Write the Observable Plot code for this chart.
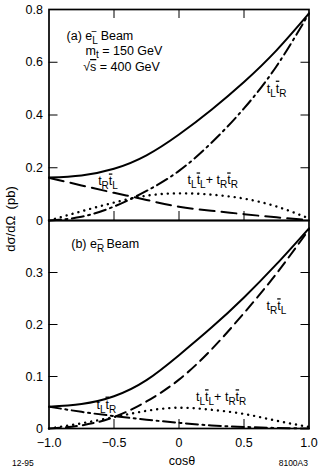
<!DOCTYPE html>
<html><head><meta charset="utf-8">
<script src="https://cdn.jsdelivr.net/npm/d3@7"></script>
<script src="https://cdn.jsdelivr.net/npm/@observablehq/plot@0.6"></script>
<style>
body{margin:0;background:#fff;}
#wrap{position:relative;width:318px;height:470px;font-family:"Liberation Sans",Arial,Helvetica,sans-serif;color:#000;overflow:hidden;}
#wrap svg{position:absolute;left:0;overflow:visible;}
.note{position:absolute;white-space:nowrap;line-height:1;}
</style></head><body><div id="wrap"></div>
<script>
// ---- data ----
const cosTheta = [-1, -0.75, -0.5, -0.25, 0, 0.25, 0.5, 0.75, 1];
// (a) e_L^- beam
const totalA   = [0.163, 0.171, 0.196, 0.247, 0.326, 0.420, 0.525, 0.645, 0.785];
const tLtRbarA = [0.000, 0.014, 0.053, 0.112, 0.188, 0.295, 0.425, 0.585, 0.785];
const tRtLbarA = [0.162, 0.133, 0.105, 0.078, 0.052, 0.037, 0.024, 0.012, 0.002];
const sameHelA = [0.000, 0.035, 0.068, 0.094, 0.103, 0.098, 0.083, 0.053, 0.008];
// (b) e_R^- beam
const totalB   = [0.042, 0.047, 0.062, 0.093, 0.141, 0.194, 0.252, 0.316, 0.385];
const tRtLbarB = [0.000, 0.006, 0.022, 0.052, 0.094, 0.152, 0.222, 0.298, 0.383];
const tLtRbarB = [0.042, 0.032, 0.024, 0.017, 0.011, 0.006, 0.003, 0.001, 0.000];
const sameHelB = [0.000, 0.010, 0.022, 0.034, 0.040, 0.036, 0.028, 0.015, 0.003];
// ticks
const xTickValues = [-1, -0.5, 0, 0.5, 1];
const xInnerTicks = [-0.5, 0, 0.5];
const yLabelsA = [0, 0.2, 0.4, 0.6, 0.8];
const yInnerA  = [0.2, 0.4, 0.6];
const yLabelsB = [0, 0.1, 0.2, 0.3];
const yInnerB  = [0.1, 0.2, 0.3];

// ---- layout ----
const font = '"Liberation Sans",Arial,Helvetica,sans-serif';
const rows = vals => cosTheta.map((c, i) => ({c, v: vals[i]}));
const fmtY = d => d === 0 ? "0" : d.toFixed(1);
const fmtX = d => d === 0 ? "0" : (d < 0 ? "\u2212" : "") + Math.abs(d).toFixed(1);

const sub = s => `<tspan dy="4" font-size="10">${s}</tspan>`;
const tt = (a, b) => `t${sub(a)}<tspan dy="-4" style="text-decoration:overline">t</tspan>${sub(b)}`;
const rich = {
  "A_beam": `(a) e<tspan dy="3.5" font-size="10">L</tspan><tspan dx="-6.5" dy="-8.5" font-size="10">\u2212</tspan><tspan dy="5"> Beam</tspan>`,
  "B_beam": `(b) e<tspan dy="3.5" font-size="10">R</tspan><tspan dx="-7" dy="-8.5" font-size="10">\u2212</tspan><tspan dy="5"> Beam</tspan>`,
  "mt": `m<tspan dy="3.5" font-size="10">t</tspan><tspan dy="-3.5"> = 150 GeV</tspan>`,
  "rs": `\u221A<tspan style="text-decoration:overline">s</tspan> = 400 GeV`,
  "tLtR": tt("L", "R"),
  "tRtL": tt("R", "L"),
  "same": tt("L", "L") + `<tspan dy="-4">+ </tspan>` + tt("R", "R")
};

const annA = [
  {c: -0.865, v: 0.698, key: "A_beam"},
  {c: -0.719, v: 0.643, key: "mt"},
  {c: -0.737, v: 0.582, key: "rs"},
  {c: 0.675, v: 0.50, key: "tLtR"},
  {c: -0.622, v: 0.148, key: "tRtL"},
  {c: 0.066, v: 0.152, key: "same"}
];
const annB = [
  {c: -0.829, v: 0.354, key: "B_beam"},
  {c: 0.673, v: 0.235, key: "tRtL"},
  {c: -0.635, v: 0.046, key: "tLtR"},
  {c: 0.131, v: 0.060, key: "same"}
];

function curves(total, dashdot, dashed, dotted, dashPattern) {
  return [
    Plot.line(rows(dotted), {x: "c", y: "v", curve: "natural", stroke: "black", strokeWidth: 2.4, strokeDasharray: "0.1,6", strokeLinecap: "round"}),
    Plot.line(rows(dashed), {x: "c", y: "v", curve: "natural", stroke: "black", strokeWidth: 2, strokeDasharray: dashPattern}),
    Plot.line(rows(dashdot), {x: "c", y: "v", curve: "natural", stroke: "black", strokeWidth: 2, strokeDasharray: "12,4.5,2,4.5"}),
    Plot.line(rows(total), {x: "c", y: "v", curve: "natural", stroke: "black", strokeWidth: 2})
  ];
}

function panel({height, marginTop, marginBottom, yDomain, yLabels, yInner, topTicks, bottomLabels, lines, ann}) {
  const marks = [
    ...lines,
    Plot.frame({stroke: "black", strokeWidth: 1.7}),
    Plot.axisY({ticks: yInner, anchor: "left", tickSize: -9, fill: "none", label: null, strokeWidth: 1}),
    Plot.axisY({ticks: yInner, anchor: "right", tickSize: -9, fill: "none", label: null, strokeWidth: 1}),
    Plot.axisX({ticks: xInnerTicks, anchor: "bottom", tickSize: -9, fill: "none", label: null, strokeWidth: 1}),
    Plot.axisY({ticks: yLabels, anchor: "left", tickSize: 0, tickPadding: 6, tickFormat: fmtY, label: null, fontSize: 12.5}),
    Plot.text(ann, {x: "c", y: "v", text: "key", textAnchor: "start", lineAnchor: "middle", fontSize: 12.5, fill: "black"})
  ];
  if (topTicks) marks.push(Plot.axisX({ticks: xInnerTicks, anchor: "top", tickSize: -8, fill: "none", label: null, strokeWidth: 1}));
  if (bottomLabels) marks.push(Plot.axisX({ticks: xTickValues, anchor: "bottom", tickSize: 0, tickPadding: 10, tickFormat: fmtX, label: null, fontSize: 12.5}));
  const svg = Plot.plot({
    width: 318, height, marginTop, marginBottom, marginLeft: 48.5, marginRight: 9.5,
    x: {domain: [-1, 1]},
    y: {domain: yDomain},
    style: {background: "transparent", fontFamily: font, fontSize: "12.5px", color: "black", overflow: "visible"},
    marks
  });
  svg.querySelectorAll("text").forEach(t => {
    const k = t.textContent;
    if (rich[k]) t.innerHTML = rich[k];
  });
  return svg;
}

const wrap = document.getElementById("wrap");
const topPanel = panel({height: 222, marginTop: 9, marginBottom: 2, yDomain: [0, 0.8], yLabels: yLabelsA, yInner: yInnerA,
  topTicks: true, bottomLabels: false, lines: curves(totalA, tLtRbarA, tRtLbarA, sameHelA, "15,7"), ann: annA});
topPanel.style.top = "0px";
wrap.appendChild(topPanel);
const botPanel = panel({height: 252, marginTop: 2, marginBottom: 42, yDomain: [0, 0.4], yLabels: yLabelsB, yInner: yInnerB,
  topTicks: false, bottomLabels: true, lines: curves(totalB, tLtRbarB, tRtLbarB, sameHelB, "11,6"), ann: annB});
botPanel.style.top = "218px";
wrap.appendChild(botPanel);

function note(text, css) {
  const d = document.createElement("div");
  d.className = "note";
  d.textContent = text;
  Object.assign(d.style, css);
  wrap.appendChild(d);
  return d;
}
note("dσ/dΩ\u2002(pb)", {left: "10px", top: "219px", fontSize: "13px", transform: "translate(-50%,-50%) rotate(-90deg)"});
note("cosθ", {left: "182px", top: "455px", fontSize: "12.5px", transform: "translateX(-50%)"});
note("12-95", {left: "12px", top: "459px", fontSize: "8.5px"});
note("8100A3", {right: "10px", top: "459px", fontSize: "8.5px"});
</script>
</body></html>
